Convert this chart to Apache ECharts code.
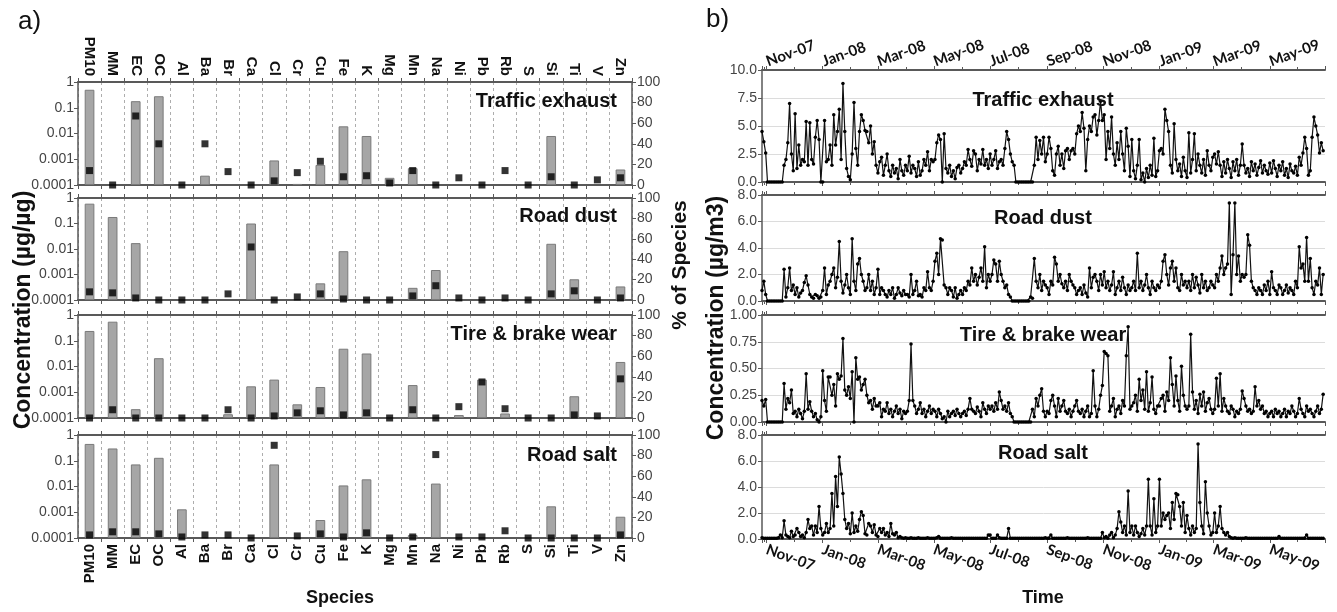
<!DOCTYPE html>
<html><head><meta charset="utf-8">
<script src="https://cdn.jsdelivr.net/npm/echarts@6/dist/echarts.min.js"></script>
<style>html,body{margin:0;padding:0;background:#fff}#c{width:1337px;height:612px}</style>
</head><body><div id="c"></div><script>
// ---------- Panel a) : source profiles ----------
const species = ['PM10','MM','EC','OC','Al','Ba','Br','Ca','Cl','Cr','Cu','Fe','K','Mg','Mn','Na','Ni','Pb','Rb','S','Si','Ti','V','Zn'];
const factorNames = ['Traffic exhaust','Road dust','Tire & brake wear','Road salt'];
const logTicks = ['1','0.1','0.01','0.001','0.0001'];
// concentration (µg/µg), log axis
const concTraffic = [0.5,null,0.18,0.28,null,0.00023,null,null,0.0009,0.00011,0.0006,0.019,0.008,0.00019,0.00045,null,null,null,null,null,0.008,null,null,0.0004];
const concDust    = [0.6,0.18,0.017,null,null,null,null,0.1,null,null,0.00045,0.0082,null,null,0.0003,0.0015,null,null,null,null,0.016,0.00065,null,0.00034];
const concTire    = [0.24,0.55,0.00022,0.021,null,null,0.00014,0.0017,0.0031,0.00034,0.0016,0.049,0.032,null,0.0019,null,0.00013,0.0031,0.00015,null,null,0.0007,null,0.015];
const concSalt    = [0.45,0.3,0.072,0.13,0.0013,null,null,null,0.072,null,0.0005,0.011,0.019,null,0.00013,0.013,null,null,null,null,0.0017,null,null,0.00067];
// % of species
const pctTraffic = [14,0,67,40,0,40,13,0,4,12,23,8,9,2,14,0,7,0,14,0,8,0,5,7];
const pctDust    = [8,7,2,0,0,0,6,52,0,3,6,1,0,0,4,14,2,0,2,0,6,9,0,2];
const pctTire    = [0,8,0,0,0,0,8,0,2,5,7,3,5,0,8,0,11,35,9,0,0,3,2,38];
const pctSalt    = [3,6,6,4,1,3,3,0,90,2,4,1,5,0,1,81,1,1,7,0,0,0,0,3];

// ---------- Panel b) : time series (every 2nd day from 27 Oct 2007) ----------
const seriesStart = [2007, 9, 27];
const stepDays = 2;
const tsTraffic = [
 4.5,3.6,2.6,
 0,0,0,0,0,0,0,0,0,1.5,2.0,3.5,7.0,2.5,1.0,
 6.1,1.2,3.3,1.5,2.0,1.8,5.4,1.5,5.3,2.0,1.6,4.0,5.5,3.8,0.0,
 0.0,5.5,1.8,2.0,3.3,1.5,6.0,3.3,4.5,6.5,2.0,8.8,4.5,1.2,0.5,0.2,
 2.5,7.1,3.0,1.5,4.5,6.0,5.5,4.6,4.5,3.5,5.0,2.5,3.6,1.5,
 0.8,1.8,2.2,0.6,1.5,2.5,1.0,0.5,1.5,0.8,1.2,0.3,2.0,1.0,0.6,1.5,
 1.0,2.3,0.8,1.5,1.2,0.5,1.8,0.6,1.0,2.0,1.5,2.7,1.0,2.0,1.8,
 2.0,3.5,4.2,3.8,0.0,4.3,1.2,0.8,1.5,0.5,1.0,0.3,1.3,1.5,0.8,
 1.2,1.8,1.5,2.9,2.0,1.4,2.8,2.5,1.0,2.0,1.6,2.9,1.5,2.0,1.2,
 2.5,1.5,2.0,2.8,1.2,1.8,2.0,1.5,3.0,4.5,3.8,2.5,1.8,1.5,0.0,0.0,
 0,0,0,0,0,0,0,0,1.5,4.0,2.0,3.7,2.5,4.0,1.8,
 2.5,4.0,3.0,1.0,0.6,2.5,3.2,1.5,2.5,1.2,2.8,3.0,2.0,2.8,3.0,
 2.5,4.3,5.0,4.5,6.2,4.8,1.0,3.8,5.0,4.5,5.8,6.0,4.2,5.5,7.2,5.5,
 6.0,2.0,4.5,3.0,5.8,2.5,1.5,3.5,2.0,4.5,2.5,1.0,4.8,3.2,0.5,
 3.8,1.0,0.3,1.5,3.8,0.2,0.8,0.0,1.2,0.4,1.5,0.6,3.9,0.5,1.0,
 2.8,3.0,2.5,6.5,5.5,4.5,1.5,0.8,5.2,2.0,1.0,1.6,0.5,2.2,1.0,0.4,
 4.4,0.8,2.0,4.3,1.0,2.5,1.5,0.8,2.0,0.6,2.8,1.5,1.0,2.2,
 2.5,1.6,2.7,1.5,0.5,1.8,0.8,2.0,1.2,0.4,1.8,1.0,2.0,0.6,1.5,
 3.4,1.5,0.8,1.2,0.5,1.8,1.0,1.6,0.6,1.3,1.9,0.8,1.5,1.0,0.7,
 1.7,0.8,1.9,1.2,0.5,1.5,1.0,1.8,0.6,1.2,0.4,1.6,1.0,0.8,1.4,0.6,
 2.2,1.5,2.6,4.0,3.0,0.6,1.0,4.0,5.8,5.0,4.2,2.6,3.5,2.8
];
const tsDust = [
 0.8,1.5,0.5,
 0,0,0,0,0,0,0,0,0,2.4,0.3,1.0,2.5,0.8,1.2,
 0.5,1.0,0.3,0.6,0.8,1.4,1.9,1.2,0.5,0.3,0.2,0.5,0.4,0.2,0.3,
 0.8,2.5,0.5,1.2,1.5,2.0,2.5,1.0,1.8,4.5,1.5,0.6,1.2,2.0,1.0,0.5,
 4.7,1.5,0.8,2.8,3.2,2.0,1.5,0.8,1.0,2.0,0.8,1.5,0.5,1.0,
 2.4,0.5,1.0,0.8,0.5,0.3,0.8,0.5,1.0,0.2,0.5,1.0,0.6,0.4,0.8,0.5,
 0.5,0.3,2.0,0.5,0.8,1.5,0.4,0.5,0.3,1.0,0.8,2.2,1.0,0.8,1.5,
 3.0,3.6,2.0,4.7,4.6,1.2,1.0,0.5,1.0,0.8,0.3,1.0,0.2,0.5,0.8,
 0.5,1.0,0.8,1.5,1.2,2.5,1.5,2.0,1.2,1.8,2.5,1.5,4.1,1.0,2.0,
 1.5,2.0,3.1,2.8,1.5,3.0,2.0,1.5,1.0,1.2,0.5,0.3,0,0,0,0,
 0,0,0,0,0,0,0.3,0.2,3.2,1.5,1.0,2.0,0.8,1.5,1.2,
 1.0,0.5,1.5,1.2,3.3,2.8,1.5,2.0,1.3,1.0,1.5,0.8,2.0,1.5,1.2,
 1.0,0.5,0.8,1.0,0.5,1.2,0.6,0.3,2.5,1.0,1.8,2.0,1.5,0.8,2.0,1.2,
 2.2,1.0,1.5,0.8,1.2,2.2,0.5,1.0,1.5,0.8,1.8,1.0,0.5,1.2,0.8,
 1.0,1.5,0.8,3.6,1.0,1.5,0.8,1.2,2.0,1.0,0.5,1.5,1.0,0.8,1.2,
 1.0,1.5,3.0,3.5,2.0,1.2,2.5,3.0,1.5,2.5,1.0,0.8,2.0,1.2,1.5,1.0,
 1.5,0.8,2.0,1.0,1.8,1.2,0.6,2.0,1.0,1.5,0.8,1.0,1.5,1.2,
 1.0,2.0,1.5,2.5,3.4,2.0,2.5,2.8,7.4,0.5,3.5,7.4,2.0,3.4,1.5,
 2.0,1.8,2.0,5.0,4.2,1.5,1.0,0.8,0.5,1.0,0.8,0.5,1.2,0.8,1.5,
 0.5,2.2,1.0,0.8,0.5,1.2,1.0,0.5,0.8,1.2,0.6,1.0,0.8,0.5,1.5,1.0,
 4.1,2.5,2.8,1.5,4.8,1.5,3.2,1.0,0.5,1.5,1.2,2.5,0.5,2.0
];
const tsTire = [
 0.20,0.15,0.21,
 0,0,0,0,0,0,0,0,0,0.36,0.12,0.22,0.18,0.30,0.08,
 0.10,0.05,0.12,0.08,0.03,0.10,0.45,0.12,0.19,0.10,0.05,0.08,0.02,0.0,0.05,
 0.48,0.20,0.10,0.42,0.42,0.25,0.35,0.15,0.45,0.40,0.43,0.78,0.30,0.25,0.33,0.22,
 0.47,0.0,0.60,0.40,0.42,0.30,0.35,0.40,0.25,0.18,0.20,0.12,0.22,0.15,
 0.15,0.18,0.05,0.12,0.10,0.18,0.08,0.12,0.05,0.10,0.15,0.08,0.12,0.03,0.10,0.08,
 0.10,0.20,0.73,0.20,0.15,0.08,0.12,0.18,0.08,0.12,0.05,0.10,0.15,0.08,0.12,
 0.10,0.05,0.12,0.08,0.03,0.05,0.0,0.10,0.05,0.08,0.10,0.06,0.12,0.08,0.05,
 0.08,0.10,0.06,0.12,0.22,0.12,0.10,0.08,0.14,0.10,0.05,0.18,0.12,0.08,0.15,
 0.12,0.15,0.10,0.18,0.12,0.28,0.20,0.12,0.15,0.10,0.18,0.08,0.05,0,0,0,
 0,0,0,0,0,0,0,0.12,0.05,0.22,0.15,0.25,0.31,0.10,0.05,
 0.10,0.08,0.20,0.25,0.15,0.05,0.22,0.10,0.15,0.20,0.10,0.08,0.12,0.05,0.10,
 0.15,0.20,0.10,0.08,0.12,0.05,0.10,0.15,0.05,0.08,0.48,0.15,0.05,0.12,0.25,0.34,
 0.66,0.64,0.62,0.10,0.15,0.22,0.05,0.12,0.15,0.08,0.20,0.15,0.62,0.89,0.12,
 0.15,0.18,0.25,0.10,0.40,0.20,0.30,0.12,0.47,0.10,0.18,0.42,0.12,0.08,0.15,
 0.15,0.22,0.25,0.10,0.28,0.20,0.60,0.35,0.15,0.43,0.20,0.10,0.52,0.25,0.15,0.12,
 0.15,0.82,0.28,0.12,0.20,0.08,0.26,0.15,0.28,0.10,0.18,0.22,0.12,0.08,
 0.12,0.41,0.15,0.45,0.10,0.22,0.15,0.10,0.08,0.15,0.12,0.05,0.10,0.08,0.12,
 0.29,0.22,0.15,0.10,0.12,0.08,0.10,0.33,0.15,0.20,0.12,0.15,0.08,0.10,0.05,
 0.08,0.10,0.05,0.12,0.08,0.10,0.05,0.08,0.12,0.05,0.10,0.08,0.15,0.10,0.05,0.08,
 0.22,0.12,0.08,0.05,0.15,0.10,0.12,0.08,0.05,0.10,0.15,0.08,0.12,0.26
];
const tsSalt = [
 0.1,0.05,0.05,
 0.05,0.05,0.05,0.05,0.05,0.05,0.1,0.3,0.1,1.4,0.3,0.2,0.1,0.6,0.2,
 0.3,0.8,0.5,0.2,0.3,0.1,0.5,1.5,0.8,1.0,0.3,1.0,0.5,2.5,0.8,
 0.3,0.5,1.2,0.5,0.8,3.5,1.0,4.8,2.5,6.3,5.0,3.5,1.5,0.8,1.2,0.4,
 2.0,0.5,1.0,0.6,1.5,2.1,1.8,0.4,0.3,1.2,1.0,0.5,1.1,0.3,
 0.2,0.8,0.5,0.8,0.3,0.5,0.2,1.2,0.4,0.3,0.5,0.1,0.2,0.1,0.05,0.1,
 0.05,0.05,0.1,0.05,0.05,0.05,0.1,0.05,0.05,0.05,0.05,0.1,0.05,0.05,0.05,
 0.05,0.1,0.2,0.05,0.05,0.05,0.05,0.05,0.05,0.1,0.05,0.05,0.05,0.05,0.05,
 0.05,0.05,0.05,0.05,0.05,0.05,0.05,0.05,0.05,0.05,0.05,0.05,0.05,0.05,0.3,
 0.3,0.05,0.05,0.05,0.3,0.1,0.05,0.05,0.05,0.05,0.8,0.05,0.05,0.05,0.05,0.05,
 0.05,0.05,0.05,0.05,0.05,0.05,0.05,0.05,0.05,0.05,0.05,0.05,0.05,0.05,0.1,
 0.05,0.05,0.3,0.05,0.05,0.05,0.05,0.05,0.05,0.05,0.05,0.1,0.05,0.05,0.05,
 0.05,0.05,0.05,0.05,0.05,0.05,0.05,0.1,0.05,0.05,0.05,0.05,0.05,0.05,0.05,0.5,
 0.1,0.2,0.05,0.3,0.5,0.1,0.3,0.8,2.1,1.3,0.5,1.0,0.3,3.7,0.5,
 1.0,0.3,1.0,0.5,0.2,0.4,0.8,0.3,1.0,4.6,1.0,0.3,3.1,0.5,1.0,
 4.6,1.0,2.0,1.5,1.8,2.0,0.8,2.8,1.5,3.5,3.4,2.5,1.0,2.8,0.5,1.8,
 0.8,0.3,1.0,0.5,0.8,7.3,2.8,1.0,0.4,4.4,2.0,1.0,0.3,0.5,
 2.0,0.5,1.0,2.5,0.8,0.5,0.3,0.5,0.2,0.1,0.05,0.1,0.05,0.05,0.05,
 0.05,0.05,0.1,0.05,0.05,0.05,0.05,0.05,0.05,0.05,0.05,0.05,0.05,0.05,0.05,
 0.05,0.05,0.05,0.05,0.05,0.2,0.05,0.05,0.05,0.05,0.05,0.05,0.05,0.05,0.05,0.05,
 0.05,0.05,0.05,0.05,0.3,0.05,0.05,0.05,0.05,0.05,0.05,0.05,0.05,0.05
];
const tsMax = [10, 8, 1, 8];
const tsInterval = [2.5, 2, 0.25, 2];
const tsDecimals = [1, 1, 2, 1];

// ---------- layout ----------
const L = {left: 78, width: 554, tops: [82, 198, 315, 435], heights: [103, 102, 103, 103]};
const R = {left: 762, width: 563, tops: [70, 195, 315, 435], heights: [112, 106, 107, 104]};
const axisCol = '#595959', labCol = '#444';
const narrow = "'Liberation Sans Narrow','Arial Narrow','Liberation Sans',sans-serif";
const bold = "'Liberation Sans',Arial,sans-serif";

const concAll = [concTraffic, concDust, concTire, concSalt];
const pctAll = [pctTraffic, pctDust, pctTire, pctSalt];
const tsAll = [tsTraffic, tsDust, tsTire, tsSalt];

function toTime(vals) {
  return vals.map((v, i) => [new Date(seriesStart[0], seriesStart[1], seriesStart[2] + stepDays * i).getTime(), v]);
}

const grid = [], xAxis = [], yAxis = [], series = [], graphic = [];
for (let i = 0; i < 4; i++) {
  grid.push({left: L.left, top: L.tops[i], width: L.width, height: L.heights[i]});
}
for (let i = 0; i < 4; i++) {
  grid.push({left: R.left, top: R.tops[i], width: R.width, height: R.heights[i]});
}
// left category axes: bottom (0-3), top (4-7)
for (let k = 0; k < 2; k++) {
  for (let i = 0; i < 4; i++) {
    const showLab = (k === 0 && i === 3) || (k === 1 && i === 0);
    xAxis.push({
      type: 'category', data: species, gridIndex: i, position: k === 0 ? 'bottom' : 'top',
      axisLine: {lineStyle: {color: axisCol, width: 2}},
      axisTick: {show: true, length: 4, lineStyle: {color: axisCol}},
      axisLabel: {show: showLab, rotate: 90, fontFamily: bold, fontWeight: 'bold', fontSize: 15, color: '#111', margin: 6},
      splitLine: {show: k === 0, lineStyle: {color: '#999', type: [3, 3], width: 0.8}}
    });
  }
}
// right time axes: bottom (8-11), top (12-15)
for (let k = 0; k < 2; k++) {
  for (let i = 0; i < 4; i++) {
    const showLab = (k === 0 && i === 3) || (k === 1 && i === 0);
    xAxis.push({
      type: 'time', gridIndex: 4 + i, position: k === 0 ? 'bottom' : 'top',
      min: '2007-10-27', max: '2009-06-30',
      minInterval: 70 * 86400000, maxInterval: 70 * 86400000,
      axisLine: {lineStyle: {color: axisCol, width: 2}},
      axisTick: {show: true, length: 4, lineStyle: {color: axisCol}},
      minorTick: {show: true, splitNumber: 2, length: 3, lineStyle: {color: axisCol}},
      axisLabel: {show: showLab, rotate: -20, align: 'left', formatter: '{MMM}-{yy}',
        fontFamily: "Lato,'Open Sans',sans-serif", fontWeight: 'bold', fontSize: 15, color: '#111',
        margin: k === 0 ? 10 : 8, hideOverlap: false},
      splitLine: {show: false}
    });
  }
}
// left log axes (0-3), percent axes (4-7)
for (let i = 0; i < 4; i++) {
  yAxis.push({
    type: 'log', logBase: 10, min: 0.0001, max: 1, startValue: 0.0001, gridIndex: i,
    axisLine: {show: true, lineStyle: {color: axisCol, width: 1.5}},
    axisTick: {show: true, length: 4, lineStyle: {color: axisCol}},
    axisLabel: {fontFamily: narrow, fontSize: 14, color: labCol, margin: 4,
      formatter: v => logTicks[Math.round(-Math.log10(v))]},
    splitLine: {show: false}
  });
}
for (let i = 0; i < 4; i++) {
  yAxis.push({
    type: 'value', min: 0, max: 100, interval: 20, gridIndex: i, position: 'right',
    axisLine: {show: true, lineStyle: {color: axisCol, width: 1.5}},
    axisTick: {show: true, length: 4, lineStyle: {color: axisCol}},
    axisLabel: {fontFamily: narrow, fontSize: 14, color: labCol, margin: 5},
    splitLine: {show: false}
  });
}
// right value axes (8-11)
for (let i = 0; i < 4; i++) {
  yAxis.push({
    type: 'value', min: 0, max: tsMax[i], interval: tsInterval[i], gridIndex: 4 + i,
    axisLine: {show: true, lineStyle: {color: axisCol, width: 1.5}},
    axisTick: {show: true, length: 4, lineStyle: {color: axisCol}},
    axisLabel: {fontFamily: narrow, fontSize: 14, color: labCol, margin: 5,
      formatter: v => v.toFixed(tsDecimals[i])},
    splitLine: {show: true, lineStyle: {color: '#dcdcdc', width: 1}}
  });
}
for (let i = 0; i < 4; i++) {
  series.push({
    type: 'bar', xAxisIndex: i, yAxisIndex: i, data: concAll[i], barWidth: '42%',
    itemStyle: {color: '#a6a6a6', borderColor: '#7a7a7a', borderWidth: 1}
  });
  series.push({
    type: 'scatter', xAxisIndex: i, yAxisIndex: 4 + i, data: pctAll[i], symbol: 'rect', symbolSize: 7,
    itemStyle: {color: '#000'}, z: 5
  });
  series.push({
    type: 'line', xAxisIndex: 8 + i, yAxisIndex: 8 + i, data: toTime(tsAll[i]),
    symbol: 'circle', symbolSize: 3.5, showSymbol: true,
    lineStyle: {color: '#111', width: 1.2}, itemStyle: {color: '#000'}
  });
}

function txt(x, y, text, size, opt) {
  opt = opt || {};
  graphic.push({
    type: 'text', x: x, y: y, rotation: opt.rot || 0, z: 100,
    style: {text: text, fontSize: size, fontWeight: opt.weight || 'bold', fontFamily: opt.family || bold,
      fill: '#111', align: opt.align || 'center', verticalAlign: 'middle'}
  });
}
txt(18, 22, 'a)', 26, {weight: 'normal', align: 'left'});
txt(706, 20, 'b)', 26, {weight: 'normal', align: 'left'});
const lTitleY = [101, 216, 334, 455], rTitleY = [100, 218, 335, 453];
for (let i = 0; i < 4; i++) {
  txt(617, lTitleY[i], factorNames[i], 20, {align: 'right'});
  txt(1043, rTitleY[i], factorNames[i], 20);
}
txt(24, 310, 'Concentration (µg/µg)', 23, {rot: Math.PI / 2});
txt(680, 265, '% of Species', 21, {rot: Math.PI / 2});
txt(717, 318, 'Concentration (µg/m3)', 23, {rot: Math.PI / 2});
txt(340, 598, 'Species', 18);
txt(1043, 598, 'Time', 18);

const chart = echarts.init(document.getElementById('c'), null, {renderer: 'canvas'});
chart.setOption({animation: false, backgroundColor: '#fff', grid, xAxis, yAxis, series, graphic});
</script></body></html>
